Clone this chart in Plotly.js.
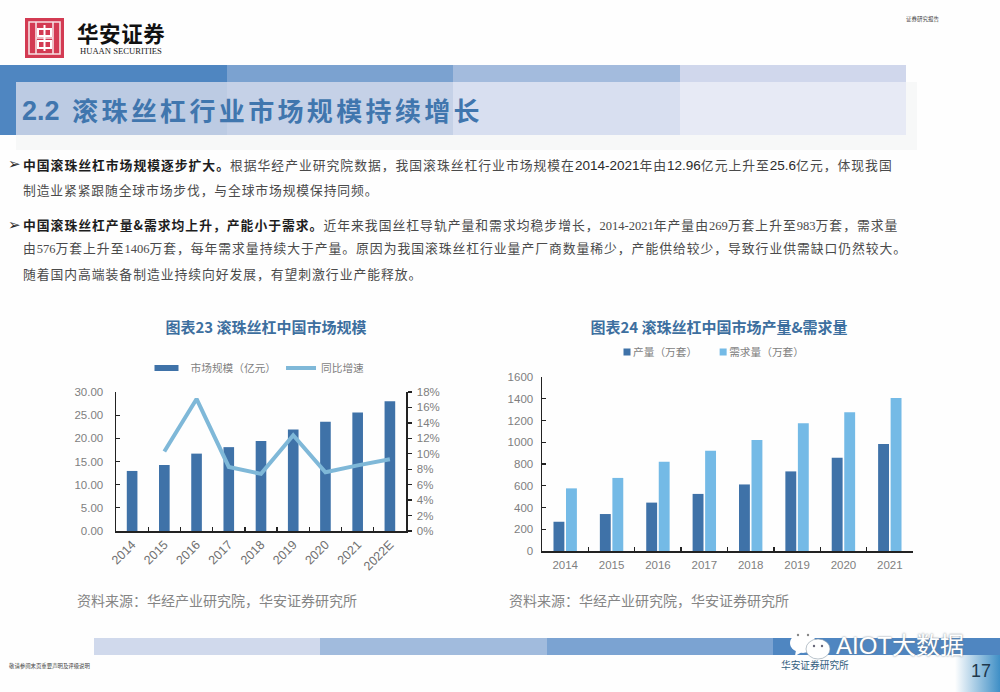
<!DOCTYPE html>
<html lang="zh">
<head>
<meta charset="utf-8">
<script src="https://cdn.plot.ly/plotly-3.0.1.min.js"></script>
<style>
  html, body { margin: 0; padding: 0; background: #fefefe; }
  #page { position: relative; width: 1000px; height: 692px; overflow: hidden;
    font-family: "Noto Sans CJK SC", "Liberation Sans", sans-serif; }
  .box { position: absolute; }
  .txt { position: absolute; white-space: nowrap; line-height: 1; }
  .body { font-size: 12.8px; color: #4a4a4a; }
  .body b { color: #1d1d1d; }
  .ar { font-family: "Liberation Sans", sans-serif; font-size: 13.5px; color: #2a2a2a; letter-spacing: 0; }
  .se { font-family: "Liberation Serif", serif; font-size: 12.5px; letter-spacing: 0; }
  .plot { position: absolute; top: 310px; height: 310px; }
</style>
</head>
<body>
<div id="page">
  <!-- header bands -->
  <div class="box" style="left:0;top:65px;width:227px;height:70px;background:#4f86c1"></div>
  <div class="box" style="left:227px;top:65px;width:226px;height:17px;background:#7ba2d0"></div>
  <div class="box" style="left:453px;top:65px;width:227px;height:17px;background:#a3bbdd"></div>
  <div class="box" style="left:680px;top:65px;width:226px;height:17px;background:#d0d7ec"></div>
  <div class="box" style="left:16px;top:135px;width:901px;height:15px;background:#f7f8f8"></div>
  <div class="box" style="left:906px;top:82px;width:11px;height:53px;background:#f7f8f8"></div>
  <div class="box" style="left:16px;top:82px;width:211px;height:53px;background:#bccbe3"></div>
  <div class="box" style="left:227px;top:82px;width:226px;height:53px;background:#c5d1e7"></div>
  <div class="box" style="left:453px;top:82px;width:227px;height:53px;background:#d8dff0"></div>
  <div class="box" style="left:680px;top:82px;width:226px;height:53px;background:#e7eaf5"></div>
  <div class="txt" style="left:22px;top:97px;font-size:26px;font-weight:700;color:#4076ae;letter-spacing:3.35px"><span style="font-family:'Liberation Sans';font-size:27px;letter-spacing:0;margin-right:5px;position:relative;top:-1px">2.2 </span>滚珠丝杠行业市场规模持续增长</div>

  <!-- logo -->
  <svg class="box" style="left:25px;top:18px" width="39" height="40" viewBox="0 0 39 40">
    <rect width="39" height="40" fill="#d33b53"/>
    <path d="M4 4H35V36H4Z M11 4V36 M28 4V36 M11 20H28" fill="none" stroke="#f6dfe2" stroke-width="1.6"/>
    <path d="M13 11H26V18H13Z M13 23H26V30H13Z M19.500 7V33" fill="none" stroke="#fff" stroke-width="2"/>
  </svg>
  <div class="txt" style="left:77px;top:22px;font-size:21.500px;font-weight:700;color:#111;letter-spacing:.6px">华安证券</div>
  <div class="txt" style="left:80px;top:47px;font-family:'Liberation Serif',serif;font-size:8.600px;color:#222">HUAAN SECURITIES</div>
  <div class="txt" style="left:906px;top:17px;font-size:5.500px;color:#444">证券研究报告</div>

  <!-- body text -->
  <div class="txt ar" style="left:8px;top:156px;font-size:15px">➢</div>
  <div class="txt body" style="left:23px;top:159px;letter-spacing:1px"><b>中国滚珠丝杠市场规模逐步扩大。</b>根据华经产业研究院数据，我国滚珠丝杠行业市场规模在<span class="ar">2014-2021</span>年由<span class="ar">12.96</span>亿元上升至<span class="ar">25.6</span>亿元，体现我国</div>
  <div class="txt body" style="left:23px;top:184px;letter-spacing:.87px">制造业紧紧跟随全球市场步伐，与全球市场规模保持同频。</div>
  <div class="txt ar" style="left:8px;top:217px;font-size:15px">➢</div>
  <div class="txt body" style="left:23px;top:219px;letter-spacing:1.01px"><b>中国滚珠丝杠产量&amp;需求均上升，产能小于需求。</b>近年来我国丝杠导轨产量和需求均稳步增长，<span class="se">2014-2021</span>年产量由<span class="se">269</span>万套上升至<span class="se">983</span>万套，需求量</div>
  <div class="txt body" style="left:23px;top:242px;letter-spacing:.98px">由<span class="se">576</span>万套上升至<span class="se">1406</span>万套，每年需求量持续大于产量。原因为我国滚珠丝杠行业量产厂商数量稀少，产能供给较少，导致行业供需缺口仍然较大。</div>
  <div class="txt body" style="left:23px;top:268px;letter-spacing:.97px">随着国内高端装备制造业持续向好发展，有望刺激行业产能释放。</div>

  <div id="chart23" class="plot" style="left:60px;width:400px"></div>
  <div id="chart24" class="plot" style="left:490px;width:430px"></div>

  <div class="txt" style="left:77px;top:593px;font-size:14px;color:#858585">资料来源：华经产业研究院，华安证券研究所</div>
  <div class="txt" style="left:509px;top:593px;font-size:14px;color:#858585">资料来源：华经产业研究院，华安证券研究所</div>

  <!-- footer -->
  <div class="box" style="left:94px;top:638px;width:226px;height:17px;background:#d0d9ec"></div>
  <div class="box" style="left:320px;top:638px;width:227px;height:17px;background:#a1bbdd"></div>
  <div class="box" style="left:547px;top:638px;width:226px;height:17px;background:#7ba3d2"></div>
  <div class="box" style="left:773px;top:638px;width:227px;height:17px;background:#4f86c1"></div>
  <div class="box" style="left:955px;top:655px;width:45px;height:37px;background:linear-gradient(90deg,#fefefe,#3f8fc6)"></div>
  <div class="txt" style="left:9px;top:664px;font-size:5.400px;color:#444">敬请参阅末页重要声明及评级说明</div>
  <div class="txt" style="left:781px;top:661px;font-size:9.700px;color:#33607f">华安证券研究所</div>
  <div class="txt" style="left:971px;top:662px;font-family:'Liberation Sans';font-size:18px;color:#20384c">17</div>

  <!-- watermark -->
  <svg class="box" style="left:788px;top:632px" width="46" height="30" viewBox="0 0 46 30">
    <ellipse cx="15" cy="11" rx="13" ry="10" fill="#fff"/>
    <path d="M8 18L7 24L14 20Z" fill="#fff"/>
    <ellipse cx="30" cy="17" rx="12" ry="10" fill="#fff" stroke="#8a9aa8" stroke-width=".6"/>
    <circle cx="10" cy="3" r="1.200" fill="#888"/><circle cx="20" cy="3" r="1.200" fill="#888"/>
    <circle cx="26" cy="14" r="1.200" fill="#667"/><circle cx="34" cy="14" r="1.200" fill="#667"/>
  </svg>
  <div class="txt" style="left:836px;top:634px;font-family:'Liberation Sans','Noto Sans CJK SC',sans-serif;font-size:24px;color:#fff;text-shadow:0 0 2px #6c7a88">AIOT大数据</div>
</div>

<script>
"use strict";

const sizeYears = ["2014","2015","2016","2017","2018","2019","2020","2021","2022E"];
const marketSize = [12.96,14.25,16.7,18.1,19.4,21.9,23.6,25.6,28.0];
const sizeGrowth = [null,10.3,17.1,8.3,7.4,12.4,7.6,8.5,9.3];

const outputYears = ["2014","2015","2016","2017","2018","2019","2020","2021"];
const output = [269,340,445,525,612,732,857,983];
const demand = [576,672,820,922,1020,1175,1275,1406];

const tickFont = { family: "Liberation Sans, sans-serif", size: 11.5, color: "#7f7f7f" };
const legendFont = { family: "Noto Sans CJK SC, sans-serif", size: 10.7, color: "#7f7f7f" };
const titleFont = { family: "Noto Sans CJK SC, sans-serif", size: 15, color: "#3d6f9f", weight: 700 };
const axisLine = { showline: true, linecolor: "#222", linewidth: 1.5, tickcolor: "#222", tickwidth: 1.3, showgrid: false, zeroline: false };

// plotly's bar swatch is a fixed 12px square, the reference has other proportions
function reshapeSwatches(gd, halfW, halfH, offset) {
  gd.querySelectorAll(".legendpoints path").forEach(p => {
    p.setAttribute("d", `M${halfW},${halfH}H${-halfW}V${-halfH}H${halfW}Z`);
    p.setAttribute("transform", `translate(${offset},0)`);
  });
}

Plotly.newPlot("chart23", [
  { type: "bar", name: "市场规模（亿元）", x: sizeYears, y: marketSize, marker: { color: "#3f72a8" } },
  { type: "scatter", mode: "lines", name: "同比增速", x: sizeYears, y: sizeGrowth, yaxis: "y2",
    line: { color: "#7fb8d8", width: 4 } },
], {
  width: 400, height: 310,
  margin: { l: 56, r: 54, t: 82.3, b: 88.7 },
  paper_bgcolor: "rgba(0,0,0,0)", plot_bgcolor: "rgba(0,0,0,0)",
  title: { text: "图表23 滚珠丝杠中国市场规模", font: titleFont, x: 206 / 400, xanchor: "center", y: 1 - 18 / 310, yanchor: "middle" },
  bargap: 0.67,
  showlegend: true,
  legend: { orientation: "h", xref: "container", yref: "container", x: 0.5, xanchor: "center", y: 1 - 58 / 310, yanchor: "middle", font: legendFont },
  xaxis: { ...axisLine, type: "category", tickson: "boundaries", ticks: "inside", ticklen: 4, tickangle: -45,
    tickfont: { ...tickFont, size: 12.5, color: "#707070" } },
  yaxis: { ...axisLine, range: [0, 30], dtick: 5, tickformat: ".2f", ticks: "inside", ticklen: 4, ticklabelstandoff: 9, tickfont: tickFont },
  yaxis2: { ...axisLine, overlaying: "y", side: "right", range: [0, 18], dtick: 2, ticksuffix: "%", ticks: "outside", ticklen: 4, ticklabelstandoff: 3, tickfont: tickFont },
}, { displayModeBar: false, staticPlot: true }).then(gd => reshapeSwatches(gd, 12, 3, 16));

Plotly.newPlot("chart24", [
  { type: "bar", name: "产量（万套）", x: outputYears, y: output, marker: { color: "#3f72a8" } },
  { type: "bar", name: "需求量（万套）", x: outputYears, y: demand, marker: { color: "#74bae6" } },
], {
  width: 430, height: 310,
  margin: { l: 52.3, r: 6.7, t: 66.7, b: 68.7 },
  paper_bgcolor: "rgba(0,0,0,0)", plot_bgcolor: "rgba(0,0,0,0)",
  title: { text: "图表24 滚珠丝杠中国市场产量&需求量", font: titleFont, x: 229 / 430, xanchor: "center", y: 1 - 18 / 310, yanchor: "middle" },
  barmode: "group", bargap: 0.46, bargroupgap: 0.13,
  showlegend: true,
  legend: { orientation: "h", xref: "container", yref: "container", x: 103 / 430, xanchor: "left", y: 1 - 42 / 310, yanchor: "middle", font: legendFont },
  xaxis: { ...axisLine, type: "category", tickson: "boundaries", ticks: "inside", ticklen: 4, ticklabelstandoff: 3, tickfont: tickFont },
  yaxis: { ...axisLine, range: [0, 1600], dtick: 200, ticks: "inside", ticklen: 4, ticklabelstandoff: 5, tickfont: tickFont },
}, { displayModeBar: false, staticPlot: true }).then(gd => {
  reshapeSwatches(gd, 3.5, 3.5, 34);
  // legend entries sit closer together in the reference than plotly's minimum gap
  const second = gd.querySelectorAll(".legend .traces")[1];
  const m = second.getAttribute("transform").match(/translate\(([-\d.]+),\s*([-\d.]+)\)/);
  second.setAttribute("transform", `translate(${+m[1] - 13},${m[2]})`);
});
</script>
</body>
</html>
